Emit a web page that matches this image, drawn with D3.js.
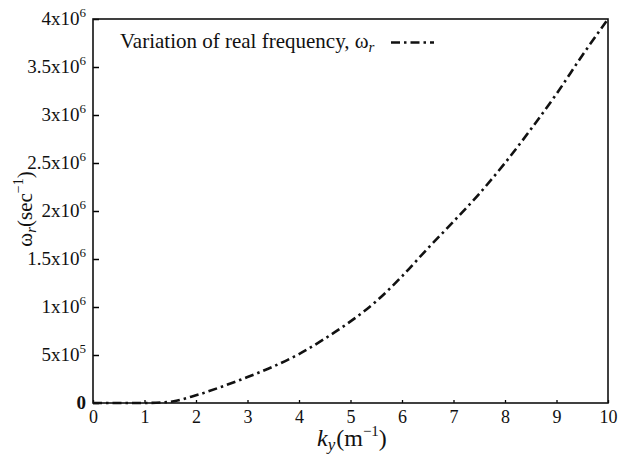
<!DOCTYPE html>
<html>
<head>
  <meta charset="utf-8">
  <title>Variation of real frequency</title>
  <script src="https://d3js.org/d3.v7.min.js"></script>
  <style>
    body { margin: 0; background: #fff; }
  </style>
</head>
<body>
<div id="chart"></div>
<script>
  // ky values (m^-1) and real frequency omega_r (sec^-1)
  const kyValues = [0, 0.5, 1, 1.45, 2, 2.5, 3, 3.5, 4, 4.5, 5, 5.5, 6, 6.5, 7, 7.5, 8, 8.5, 9, 9.5, 10];
  const omegaValues = [0, 0, 0, 0.01e6, 0.08e6, 0.17e6, 0.27e6, 0.38e6, 0.51e6, 0.67e6, 0.85e6, 1.06e6, 1.32e6, 1.61e6, 1.89e6, 2.18e6, 2.5e6, 2.85e6, 3.22e6, 3.62e6, 4.0e6];
  const xTicks = [0, 1, 2, 3, 4, 5, 6, 7, 8, 9, 10];
  const yTicks = [0, 5e5, 1e6, 1.5e6, 2e6, 2.5e6, 3e6, 3.5e6, 4e6];
  const yTickMant = ["0", "5x10", "1x10", "1.5x10", "2x10", "2.5x10", "3x10", "3.5x10", "4x10"];
  const yTickExp = ["", "5", "6", "6", "6", "6", "6", "6", "6"];
  const legendText = "Variation of real frequency, ω";

  const width = 630, height = 455;
  const margin = { left: 93, right: 22, top: 19, bottom: 52 };
  const FONT = "Liberation Serif";

  const svg = d3.select("#chart").append("svg")
    .attr("width", width)
    .attr("height", height)
    .attr("font-family", FONT);

  const x = d3.scaleLinear().domain([0, 10]).range([margin.left, width - margin.right]);
  const y = d3.scaleLinear().domain([0, 4e6]).range([height - margin.bottom, margin.top]);

  const data = kyValues.map((k, i) => ({ k: k, w: omegaValues[i] }));

  // x axis with small inward ticks
  const xAxis = svg.append("g")
    .attr("transform", "translate(0," + y(0) + ")")
    .call(d3.axisBottom(x).tickValues(xTicks).tickSize(-3).tickPadding(7).tickFormat(d3.format("d")));
  xAxis.attr("font-family", FONT).attr("font-size", 18);
  xAxis.select(".domain").remove();
  xAxis.selectAll("text").attr("fill", "#111");
  xAxis.selectAll("line").attr("stroke-width", 1.3);

  // y axis, ticks pointing in
  const yAxis = svg.append("g")
    .attr("transform", "translate(" + x(0) + ",0)")
    .call(d3.axisLeft(y).tickValues(yTicks).tickSize(-6).tickFormat(""));
  yAxis.select(".domain").remove();
  yAxis.selectAll("line").attr("stroke-width", 1.5);

  // y tick labels with superscript exponents
  yTicks.forEach((v, i) => {
    const t = svg.append("text")
      .attr("x", x(0) - 7)
      .attr("y", y(v) + 6)
      .attr("text-anchor", "end")
      .attr("font-family", FONT)
      .attr("font-size", 19)
      .attr("fill", "#111");
    if (i === 0) {
      t.attr("font-weight", "bold").text("0");
    } else {
      t.append("tspan").text(yTickMant[i]);
      t.append("tspan").attr("dy", -8).attr("font-size", 13).text(yTickExp[i]);
    }
  });

  // frame
  svg.append("rect")
    .attr("x", x(0)).attr("y", y(4e6))
    .attr("width", x(10) - x(0)).attr("height", y(0) - y(4e6))
    .attr("fill", "none").attr("stroke", "#111").attr("stroke-width", 1.6);

  // curve
  const line = d3.line()
    .x(d => x(d.k))
    .y(d => y(d.w))
    .curve(d3.curveMonotoneX);

  svg.append("path")
    .datum(data)
    .attr("d", line)
    .attr("fill", "none")
    .attr("stroke", "#111")
    .attr("stroke-width", 2.6)
    .attr("stroke-dasharray", "9,4,2.5,4");

  // legend
  const leg = svg.append("text")
    .attr("x", 120).attr("y", 48)
    .attr("font-family", FONT)
    .attr("font-size", 21)
    .attr("fill", "#111");
  leg.append("tspan").text(legendText);
  leg.append("tspan").attr("dy", 4).attr("font-size", 15).attr("font-style", "italic").text("r");

  svg.append("line")
    .attr("x1", 391).attr("x2", 434)
    .attr("y1", 42.5).attr("y2", 42.5)
    .attr("stroke", "#111").attr("stroke-width", 2.6)
    .attr("stroke-dasharray", "9,4,2.5,4");

  // x axis label
  const xl = svg.append("text")
    .attr("x", 317).attr("y", 446)
    .attr("font-family", FONT)
    .attr("font-size", 24)
    .attr("fill", "#111");
  xl.append("tspan").attr("font-style", "italic").text("k");
  xl.append("tspan").attr("dy", 4).attr("font-size", 17).attr("font-style", "italic").text("y");
  xl.append("tspan").attr("dy", -4).attr("dx", 1).text("(m");
  xl.append("tspan").attr("dy", -10).attr("font-size", 15).text("−1");
  xl.append("tspan").attr("dy", 10).text(")");

  // y axis label
  const yl = svg.append("text")
    .attr("transform", "translate(32,209) rotate(-90)")
    .attr("text-anchor", "middle")
    .attr("font-family", FONT)
    .attr("font-size", 21)
    .attr("fill", "#111");
  yl.append("tspan").text("ω");
  yl.append("tspan").attr("dy", 4).attr("font-size", 15).attr("font-style", "italic").text("r");
  yl.append("tspan").attr("dy", -4).text("(sec");
  yl.append("tspan").attr("dy", -9).attr("font-size", 14).text("−1");
  yl.append("tspan").attr("dy", 9).text(")");
</script>
</body>
</html>
